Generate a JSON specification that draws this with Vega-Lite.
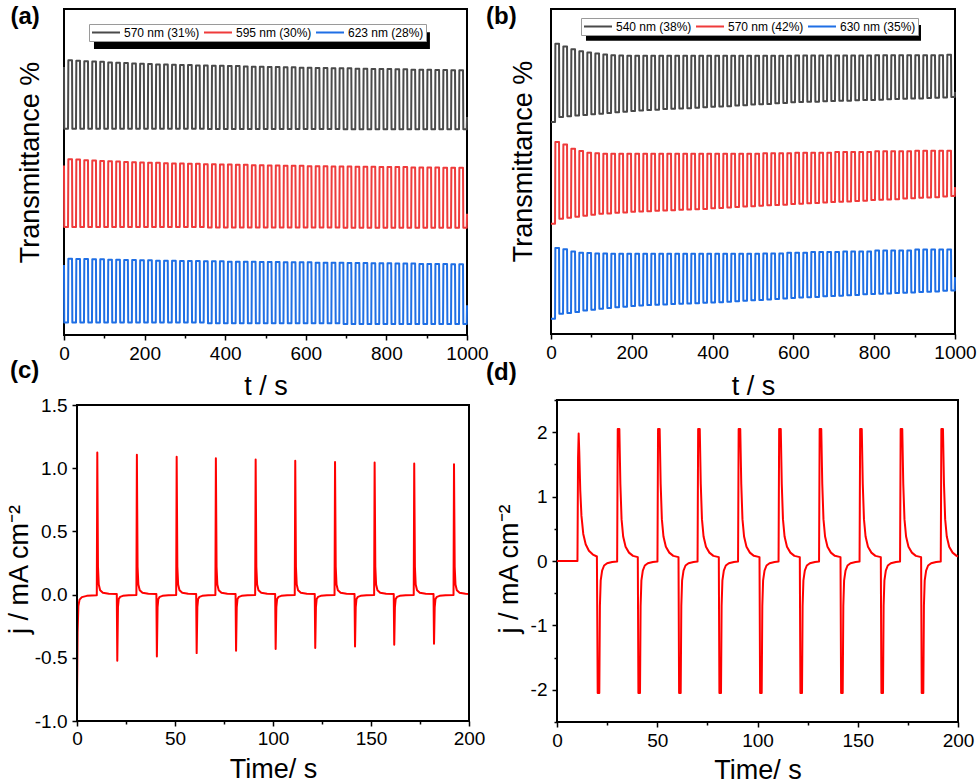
{
  "$schema": "https://vega.github.io/schema/vega-lite/v6.json",
  "background": "white",
  "padding": {"left": 5, "top": 4, "right": 0, "bottom": 0},
  "spacing": -43,
  "resolve": {"scale": {"color": "independent"}, "legend": {"color": "independent"}},
  "vconcat": [
    {
      "spacing": -5,
      "resolve": {"scale": {"color": "independent"}, "legend": {"color": "independent"}},
      "hconcat": [
        {
          "width": 403,
          "height": 326,
          "title": {"text": "(a)", "dx": -53.5, "dy": 24},
          "layer": [
            {
              "data": {
                "values": "t,a1,a2,a3\n0,82.2,52.0,21.5\n0.6,63.3,33.1,3.8\n10,63.3,33.1,3.8\n10.8,84.3,53.9,23.4\n19.9,84.3,53.9,23.4\n20.7,63.3,33.1,3.8\n29.8,63.3,33.1,3.8\n30.6,84.1,53.8,23.3\n39.7,84.1,53.8,23.3\n40.5,63.3,33.1,3.8\n49.6,63.3,33.1,3.8\n50.4,84.0,53.6,23.3\n59.5,84.0,53.6,23.3\n60.3,63.3,33.1,3.8\n69.4,63.3,33.1,3.8\n70.2,83.9,53.5,23.2\n79.3,83.9,53.5,23.2\n80.1,63.3,33.1,3.8\n89.2,63.3,33.1,3.8\n90,83.8,53.4,23.2\n99.1,83.8,53.4,23.2\n99.9,63.3,33.1,3.8\n109,63.3,33.1,3.8\n109.8,83.6,53.3,23.1\n118.9,83.6,53.3,23.1\n119.7,63.3,33.1,3.8\n128.8,63.3,33.1,3.8\n129.6,83.5,53.2,23.1\n138.7,83.5,53.2,23.1\n139.5,63.3,33.1,3.8\n148.6,63.3,33.1,3.8\n149.4,83.4,53.1,23.0\n158.5,83.4,53.1,23.0\n159.3,63.3,33.1,3.8\n168.4,63.3,33.1,3.8\n169.2,83.3,53.0,23.0\n178.3,83.3,53.0,23.0\n179.1,63.3,33.1,3.8\n188.2,63.3,33.1,3.8\n189,83.2,52.9,22.9\n198.1,83.2,52.9,22.9\n198.9,63.3,33.1,3.8\n208,63.3,33.1,3.8\n208.8,83.1,52.8,22.9\n217.9,83.1,52.8,22.9\n218.7,63.3,33.1,3.8\n227.8,63.3,33.1,3.8\n228.6,83.0,52.8,22.8\n237.7,83.0,52.8,22.8\n238.5,63.3,33.1,3.8\n247.6,63.3,33.1,3.8\n248.4,83.0,52.7,22.8\n257.5,83.0,52.7,22.8\n258.3,63.3,33.1,3.8\n267.4,63.3,33.1,3.8\n268.2,82.9,52.6,22.8\n277.3,82.9,52.6,22.8\n278.1,63.3,33.1,3.8\n287.2,63.3,33.1,3.8\n288,82.8,52.6,22.7\n297.1,82.8,52.6,22.7\n297.9,63.3,33.1,3.8\n307,63.3,33.1,3.8\n307.8,82.8,52.5,22.7\n316.9,82.8,52.5,22.7\n317.7,63.3,33.1,3.8\n326.8,63.3,33.1,3.8\n327.6,82.7,52.5,22.7\n336.7,82.7,52.5,22.7\n337.5,63.3,33.1,3.8\n346.6,63.3,33.1,3.8\n347.4,82.7,52.4,22.6\n356.5,82.7,52.4,22.6\n357.3,63.2,33.0,3.6\n366.4,63.2,33.0,3.6\n367.2,82.6,52.4,22.6\n376.3,82.6,52.4,22.6\n377.1,63.2,33.0,3.6\n386.2,63.2,33.0,3.6\n387,82.6,52.3,22.6\n396.1,82.6,52.3,22.6\n396.9,63.2,33.0,3.6\n406,63.2,33.0,3.6\n406.8,82.5,52.3,22.5\n415.9,82.5,52.3,22.5\n416.7,63.2,33.0,3.6\n425.8,63.2,33.0,3.6\n426.6,82.5,52.2,22.5\n435.7,82.5,52.2,22.5\n436.5,63.2,33.0,3.6\n445.6,63.2,33.0,3.6\n446.4,82.4,52.2,22.5\n455.5,82.4,52.2,22.5\n456.3,63.2,33.0,3.6\n465.4,63.2,33.0,3.6\n466.2,82.3,52.1,22.5\n475.3,82.3,52.1,22.5\n476.1,63.2,33.0,3.6\n485.2,63.2,33.0,3.6\n486,82.3,52.1,22.4\n495.1,82.3,52.1,22.4\n495.9,63.2,33.0,3.6\n505,63.2,33.0,3.6\n505.8,82.2,52.0,22.4\n514.9,82.2,52.0,22.4\n515.7,63.2,33.0,3.6\n524.8,63.2,33.0,3.6\n525.6,82.2,52.0,22.4\n534.7,82.2,52.0,22.4\n535.5,63.2,33.0,3.6\n544.6,63.2,33.0,3.6\n545.4,82.1,51.9,22.3\n554.5,82.1,51.9,22.3\n555.3,63.2,33.0,3.6\n564.4,63.2,33.0,3.6\n565.2,82.1,51.9,22.3\n574.3,82.1,51.9,22.3\n575.1,63.2,33.0,3.6\n584.2,63.2,33.0,3.6\n585,82.0,51.9,22.3\n594.1,82.0,51.9,22.3\n594.9,63.2,33.0,3.6\n604,63.2,33.0,3.6\n604.8,82.0,51.8,22.3\n613.9,82.0,51.8,22.3\n614.7,63.2,33.0,3.6\n623.8,63.2,33.0,3.6\n624.6,81.9,51.8,22.2\n633.7,81.9,51.8,22.2\n634.5,63.2,33.0,3.6\n643.6,63.2,33.0,3.6\n644.4,81.9,51.8,22.2\n653.5,81.9,51.8,22.2\n654.3,63.2,33.0,3.6\n663.4,63.2,33.0,3.6\n664.2,81.8,51.7,22.2\n673.3,81.8,51.7,22.2\n674.1,63.2,33.0,3.6\n683.2,63.2,33.0,3.6\n684,81.8,51.7,22.2\n693.1,81.8,51.7,22.2\n693.9,63.1,32.9,3.4\n703,63.1,32.9,3.4\n703.8,81.8,51.7,22.1\n712.9,81.8,51.7,22.1\n713.7,63.1,32.9,3.4\n722.8,63.1,32.9,3.4\n723.6,81.7,51.6,22.1\n732.7,81.7,51.6,22.1\n733.5,63.1,32.9,3.4\n742.6,63.1,32.9,3.4\n743.4,81.7,51.6,22.1\n752.5,81.7,51.6,22.1\n753.3,63.1,32.9,3.4\n762.4,63.1,32.9,3.4\n763.2,81.6,51.6,22.0\n772.3,81.6,51.6,22.0\n773.1,63.1,32.9,3.4\n782.2,63.1,32.9,3.4\n783,81.6,51.5,22.0\n792.1,81.6,51.5,22.0\n792.9,63.1,32.9,3.4\n802,63.1,32.9,3.4\n802.8,81.6,51.5,22.0\n811.9,81.6,51.5,22.0\n812.7,63.1,32.9,3.4\n821.8,63.1,32.9,3.4\n822.6,81.5,51.5,21.9\n831.7,81.5,51.5,21.9\n832.5,63.1,32.9,3.4\n841.6,63.1,32.9,3.4\n842.4,81.5,51.5,21.9\n851.5,81.5,51.5,21.9\n852.3,63.1,32.9,3.4\n861.4,63.1,32.9,3.4\n862.2,81.4,51.4,21.9\n871.3,81.4,51.4,21.9\n872.1,63.1,32.9,3.4\n881.2,63.1,32.9,3.4\n882,81.4,51.4,21.8\n891.1,81.4,51.4,21.8\n891.9,63.1,32.9,3.4\n901,63.1,32.9,3.4\n901.8,81.4,51.4,21.8\n910.9,81.4,51.4,21.8\n911.7,63.1,32.9,3.4\n920.8,63.1,32.9,3.4\n921.6,81.3,51.4,21.8\n930.7,81.3,51.4,21.8\n931.5,63.1,32.9,3.4\n940.6,63.1,32.9,3.4\n941.4,81.3,51.3,21.8\n950.5,81.3,51.3,21.8\n951.3,63.1,32.9,3.4\n960.4,63.1,32.9,3.4\n961.2,81.2,51.3,21.7\n970.3,81.2,51.3,21.7\n971.1,63.1,32.9,3.4\n980.2,63.1,32.9,3.4\n981,81.2,51.3,21.7\n990.1,81.2,51.3,21.7\n990.9,63.1,32.9,3.4\n999.4,63.1,32.9,3.4\n1000,66.9,37.2,9.1",
                "format": {"type": "csv", "parse": {"t": "number", "a1": "number", "a2": "number", "a3": "number"}}
              },
              "transform": [{"fold": ["a1", "a2", "a3"], "as": ["s", "v"]}],
              "mark": {"type": "line", "strokeWidth": 2, "strokeJoin": "round"},
              "encoding": {
                "x": {
                  "field": "t", "type": "quantitative",
                  "scale": {"domain": [0, 1000], "nice": false},
                  "axis": {
                    "title": "t / s",
                    "values": [0, 100, 200, 300, 400, 500, 600, 700, 800, 900, 1000],
                    "labelExpr": "datum.value % 200 === 0 ? format(datum.value, '.0f') : ''",
                    "tickSize": {"condition": {"test": "datum.value % 200 === 0", "value": 5}, "value": 3},
                    "domain": false,
                    "labelBaseline": "alphabetic",
                    "labelPadding": 19,
                    "titleY": 59,
                    "titleBaseline": "alphabetic"
                  }
                },
                "y": {
                  "field": "v", "type": "quantitative",
                  "scale": {"domain": [0, 100], "nice": false},
                  "axis": {"title": "Transmittance %", "labels": false, "ticks": false, "domain": false, "titleX": -26, "titleY": 153, "titleBaseline": "alphabetic"}
                },
                "color": {
                  "field": "s", "type": "nominal",
                  "scale": {"domain": ["a1", "a2", "a3"], "range": ["#4a4a4a", "#ef3b3b", "#1f6fe5"]},
                  "legend": {
                    "title": null, "orient": "none", "legendX": 25, "legendY": 15, "direction": "horizontal",
                    "symbolType": "stroke", "symbolSize": 784, "symbolStrokeWidth": 2, "clipHeight": 13,
                    "labelFontSize": 12, "labelOffset": 3, "columnPadding": 3, "padding": 2,
                    "fillColor": "white", "strokeColor": "#9a9a9a",
                    "labelExpr": "datum.label === 'a1' ? '570 nm (31%)' : datum.label === 'a2' ? '595 nm (30%)' : '623 nm (28%)'"
                  }
                }
              }
            },
            {
              "data": {"values": [{}]},
              "mark": {"type": "rect", "color": "black"},
              "encoding": {
                "x": {"datum": 74.4, "type": "quantitative"},
                "x2": {"datum": 908},
                "y": {"datum": 87.7, "type": "quantitative"},
                "y2": {"datum": 92.9}
              }
            }
          ]
        },
        {
          "width": 404,
          "height": 325,
          "title": {"text": "(b)", "dx": -65, "dy": 24},
          "layer": [
            {
              "data": {
                "values": "t,b1,b2,b3\n0,65.2,33.9,4.7\n10,65.2,33.9,4.7\n10.8,89.3,59.1,26.5\n19.9,89.3,59.1,26.5\n20.7,66.8,35.5,6.2\n29.8,66.8,35.5,6.2\n30.6,88.5,58.3,26.1\n39.7,88.5,58.3,26.1\n40.5,67.0,35.8,6.5\n49.6,67.0,35.8,6.5\n50.4,87.6,57.0,25.4\n59.5,87.6,57.0,25.4\n60.3,67.2,36.1,6.8\n69.4,67.2,36.1,6.8\n70.2,87.0,56.3,25.0\n79.3,87.0,56.3,25.0\n80.1,67.4,36.4,7.2\n89.2,67.4,36.4,7.2\n90,86.6,55.8,24.9\n99.1,86.6,55.8,24.9\n99.9,67.6,36.7,7.5\n109,67.6,36.7,7.5\n109.8,86.3,55.6,24.8\n118.9,86.3,55.6,24.8\n119.7,67.8,37.0,7.8\n128.8,67.8,37.0,7.8\n129.6,86.0,55.5,24.8\n138.7,86.0,55.5,24.8\n139.5,68.0,37.1,8.0\n148.6,68.0,37.1,8.0\n149.4,85.8,55.5,24.7\n158.5,85.8,55.5,24.7\n159.3,68.2,37.3,8.2\n168.4,68.2,37.3,8.2\n169.2,85.7,55.5,24.7\n178.3,85.7,55.5,24.7\n179.1,68.4,37.4,8.4\n188.2,68.4,37.4,8.4\n189,85.6,55.5,24.7\n198.1,85.6,55.5,24.7\n198.9,68.6,37.6,8.6\n208,68.6,37.6,8.6\n208.8,85.6,55.5,24.7\n217.9,85.6,55.5,24.7\n218.7,68.8,37.7,8.8\n227.8,68.8,37.7,8.8\n228.6,85.6,55.5,24.7\n237.7,85.6,55.5,24.7\n238.5,68.9,37.8,8.9\n247.6,68.9,37.8,8.9\n248.4,85.6,55.5,24.7\n257.5,85.6,55.5,24.7\n258.3,69.0,37.9,9.0\n267.4,69.0,37.9,9.0\n268.2,85.6,55.5,24.7\n277.3,85.6,55.5,24.7\n278.1,69.2,38.0,9.1\n287.2,69.2,38.0,9.1\n288,85.6,55.5,24.7\n297.1,85.6,55.5,24.7\n297.9,69.3,38.1,9.2\n307,69.3,38.1,9.2\n307.8,85.6,55.5,24.7\n316.9,85.6,55.5,24.7\n317.7,69.4,38.2,9.3\n326.8,69.4,38.2,9.3\n327.6,85.6,55.5,24.7\n336.7,85.6,55.5,24.7\n337.5,69.5,38.3,9.4\n346.6,69.5,38.3,9.4\n347.4,85.6,55.5,24.7\n356.5,85.6,55.5,24.7\n357.3,69.6,38.4,9.5\n366.4,69.6,38.4,9.5\n367.2,85.6,55.5,24.7\n376.3,85.6,55.5,24.7\n377.1,69.8,38.5,9.6\n386.2,69.8,38.5,9.6\n387,85.6,55.5,24.7\n396.1,85.6,55.5,24.7\n396.9,69.9,38.7,9.7\n406,69.9,38.7,9.7\n406.8,85.6,55.5,24.7\n415.9,85.6,55.5,24.7\n416.7,70.0,38.8,9.8\n425.8,70.0,38.8,9.8\n426.6,85.6,55.5,24.7\n435.7,85.6,55.5,24.7\n436.5,70.1,38.9,9.9\n445.6,70.1,38.9,9.9\n446.4,85.6,55.5,24.7\n455.5,85.6,55.5,24.7\n456.3,70.3,39.1,10.1\n465.4,70.3,39.1,10.1\n466.2,85.6,55.5,24.7\n475.3,85.6,55.5,24.7\n476.1,70.4,39.2,10.2\n485.2,70.4,39.2,10.2\n486,85.6,55.5,24.7\n495.1,85.6,55.5,24.7\n495.9,70.6,39.3,10.4\n505,70.6,39.3,10.4\n505.8,85.6,55.5,24.7\n514.9,85.6,55.5,24.7\n515.7,70.7,39.5,10.5\n524.8,70.7,39.5,10.5\n525.6,85.6,55.6,24.8\n534.7,85.6,55.6,24.8\n535.5,70.8,39.6,10.6\n544.6,70.8,39.6,10.6\n545.4,85.6,55.6,24.8\n554.5,85.6,55.6,24.8\n555.3,71.0,39.7,10.8\n564.4,71.0,39.7,10.8\n565.2,85.6,55.6,24.8\n574.3,85.6,55.6,24.8\n575.1,71.1,39.8,10.9\n584.2,71.1,39.8,10.9\n585,85.6,55.6,25.0\n594.1,85.6,55.6,25.0\n594.9,71.3,40.0,11.1\n604,71.3,40.0,11.1\n604.8,85.7,55.8,25.0\n613.9,85.7,55.8,25.0\n614.7,71.4,40.1,11.2\n623.8,71.4,40.1,11.2\n624.6,85.7,55.8,25.0\n633.7,85.7,55.8,25.0\n634.5,71.5,40.2,11.3\n643.6,71.5,40.2,11.3\n644.4,85.7,55.8,25.2\n653.5,85.7,55.8,25.2\n654.3,71.5,40.3,11.4\n663.4,71.5,40.3,11.4\n664.2,85.7,55.8,25.2\n673.3,85.7,55.8,25.2\n674.1,71.6,40.5,11.6\n683.2,71.6,40.5,11.6\n684,85.7,55.8,25.2\n693.1,85.7,55.8,25.2\n693.9,71.7,40.6,11.7\n703,71.7,40.6,11.7\n703.8,85.7,56.0,25.2\n712.9,85.7,56.0,25.2\n713.7,71.8,40.7,11.8\n722.8,71.8,40.7,11.8\n723.6,85.7,56.0,25.4\n732.7,85.7,56.0,25.4\n733.5,71.8,40.8,11.9\n742.6,71.8,40.8,11.9\n743.4,85.7,56.0,25.4\n752.5,85.7,56.0,25.4\n753.3,71.9,40.9,12.0\n762.4,71.9,40.9,12.0\n763.2,85.7,56.0,25.4\n772.3,85.7,56.0,25.4\n773.1,72.0,41.0,12.2\n782.2,72.0,41.0,12.2\n783,85.7,56.0,25.4\n792.1,85.7,56.0,25.4\n792.9,72.0,41.2,12.3\n802,72.0,41.2,12.3\n802.8,85.8,56.2,25.7\n811.9,85.8,56.2,25.7\n812.7,72.1,41.3,12.4\n821.8,72.1,41.3,12.4\n822.6,85.8,56.2,25.7\n831.7,85.8,56.2,25.7\n832.5,72.2,41.4,12.5\n841.6,72.2,41.4,12.5\n842.4,85.8,56.2,25.7\n851.5,85.8,56.2,25.7\n852.3,72.3,41.5,12.6\n861.4,72.3,41.5,12.6\n862.2,85.8,56.2,25.7\n871.3,85.8,56.2,25.7\n872.1,72.4,41.7,12.7\n881.2,72.4,41.7,12.7\n882,85.8,56.2,25.7\n891.1,85.8,56.2,25.7\n891.9,72.5,41.8,12.8\n901,72.5,41.8,12.8\n901.8,85.8,56.4,26.0\n910.9,85.8,56.4,26.0\n911.7,72.5,41.9,12.9\n920.8,72.5,41.9,12.9\n921.6,85.8,56.4,26.0\n930.7,85.8,56.4,26.0\n931.5,72.6,42.0,13.0\n940.6,72.6,42.0,13.0\n941.4,85.8,56.4,26.0\n950.5,85.8,56.4,26.0\n951.3,72.7,42.1,13.1\n960.4,72.7,42.1,13.1\n961.2,85.8,56.4,26.0\n970.3,85.8,56.4,26.0\n971.1,72.8,42.3,13.3\n980.2,72.8,42.3,13.3\n981,85.9,56.4,26.0\n990.1,85.9,56.4,26.0\n990.9,72.9,42.5,13.4\n999.4,72.9,42.5,13.4\n1000,74.5,45.2,17.5",
                "format": {"type": "csv", "parse": {"t": "number", "b1": "number", "b2": "number", "b3": "number"}}
              },
              "transform": [{"fold": ["b1", "b2", "b3"], "as": ["s", "v"]}],
              "mark": {"type": "line", "strokeWidth": 2, "strokeJoin": "round"},
              "encoding": {
                "x": {
                  "field": "t", "type": "quantitative",
                  "scale": {"domain": [0, 1000], "nice": false},
                  "axis": {
                    "title": "t / s",
                    "values": [0, 100, 200, 300, 400, 500, 600, 700, 800, 900, 1000],
                    "labelExpr": "datum.value % 200 === 0 ? format(datum.value, '.0f') : ''",
                    "tickSize": {"condition": {"test": "datum.value % 200 === 0", "value": 5}, "value": 3},
                    "domain": false,
                    "labelBaseline": "alphabetic",
                    "labelPadding": 19,
                    "titleY": 60,
                    "titleBaseline": "alphabetic"
                  }
                },
                "y": {
                  "field": "v", "type": "quantitative",
                  "scale": {"domain": [0, 100], "nice": false},
                  "axis": {"title": "Transmittance %", "labels": false, "ticks": false, "domain": false, "titleX": -20, "titleY": 152, "titleBaseline": "alphabetic"}
                },
                "color": {
                  "field": "s", "type": "nominal",
                  "scale": {"domain": ["b1", "b2", "b3"], "range": ["#4a4a4a", "#ef3b3b", "#1f6fe5"]},
                  "legend": {
                    "title": null, "orient": "none", "legendX": 30, "legendY": 9, "direction": "horizontal",
                    "symbolType": "stroke", "symbolSize": 784, "symbolStrokeWidth": 2, "clipHeight": 13,
                    "labelFontSize": 12, "labelOffset": 3, "columnPadding": 3, "padding": 2,
                    "fillColor": "white", "strokeColor": "#9a9a9a",
                    "labelExpr": "datum.label === 'b1' ? '540 nm (38%)' : datum.label === 'b2' ? '570 nm (42%)' : '630 nm (35%)'"
                  }
                }
              }
            },
            {
              "data": {"values": [{}]},
              "mark": {"type": "rect", "color": "black"},
              "encoding": {
                "x": {"datum": 86.6, "type": "quantitative"},
                "x2": {"datum": 915.8},
                "y": {"datum": 90.2, "type": "quantitative"},
                "y2": {"datum": 95.1}
              }
            }
          ]
        }
      ]
    },
    {
      "spacing": 0,
      "hconcat": [
        {
          "width": 405,
          "height": 321,
          "view": {"stroke": null},
          "title": {"text": "(c)", "dx": -54, "dy": -9},
          "layer": [
            {
              "data": {
                "values": "t,j\n0,-0.8\n0.3,-0.3\n0.7,-0.09\n1.3,-0.04\n2.5,-0.02\n5,-0.01\n10.1,-0.005\n10.35,1.124\n10.7,0.22\n11.1,0.08\n11.8,0.035\n13.2,0.015\n16.2,0.007\n20.3,0.004\n20.55,-0.524\n20.9,-0.1\n21.3,-0.035\n22,-0.018\n23.4,-0.01\n26.4,-0.006\n30.3,-0.004\n30.55,1.106\n30.9,0.22\n31.3,0.08\n32,0.035\n33.4,0.015\n36.4,0.007\n40.5,0.004\n40.75,-0.489\n41.1,-0.1\n41.5,-0.035\n42.2,-0.018\n43.6,-0.01\n46.6,-0.006\n50.6,-0.004\n50.85,1.09\n51.2,0.22\n51.6,0.08\n52.3,0.035\n53.7,0.015\n56.7,0.007\n60.8,0.004\n61.05,-0.463\n61.4,-0.1\n61.8,-0.035\n62.5,-0.018\n63.9,-0.01\n66.9,-0.006\n70.6,-0.004\n70.85,1.079\n71.2,0.22\n71.6,0.08\n72.3,0.035\n73.7,0.015\n76.7,0.007\n80.9,0.004\n81.15,-0.444\n81.5,-0.1\n81.9,-0.035\n82.6,-0.018\n84,-0.01\n87,-0.006\n90.9,-0.004\n91.15,1.069\n91.5,0.22\n91.9,0.08\n92.6,0.035\n94,0.015\n97,0.007\n101.1,0.004\n101.35,-0.431\n101.7,-0.1\n102.1,-0.035\n102.8,-0.018\n104.2,-0.01\n107.2,-0.006\n111.1,-0.004\n111.35,1.058\n111.7,0.22\n112.1,0.08\n112.8,0.035\n114.2,0.015\n117.2,0.007\n121.3,0.004\n121.55,-0.423\n121.9,-0.1\n122.3,-0.035\n123,-0.018\n124.4,-0.01\n127.4,-0.006\n131.4,-0.004\n131.65,1.05\n132,0.22\n132.4,0.08\n133.1,0.035\n134.5,0.015\n137.5,0.007\n141.6,0.004\n141.85,-0.41\n142.2,-0.1\n142.6,-0.035\n143.3,-0.018\n144.7,-0.01\n147.7,-0.006\n151.6,-0.004\n151.85,1.045\n152.2,0.22\n152.6,0.08\n153.3,0.035\n154.7,0.015\n157.7,0.007\n161.6,0.004\n161.85,-0.397\n162.2,-0.1\n162.6,-0.035\n163.3,-0.018\n164.7,-0.01\n167.7,-0.006\n171.8,-0.004\n172.05,1.037\n172.4,0.22\n172.8,0.08\n173.5,0.035\n174.9,0.015\n177.9,0.007\n181.9,0.004\n182.15,-0.389\n182.5,-0.1\n182.9,-0.035\n183.6,-0.018\n185,-0.01\n188,-0.006\n192.1,-0.004\n192.35,1.032\n192.7,0.22\n193.1,0.08\n193.8,0.035\n195.2,0.015\n198.2,0.007\n200,0.005",
                "format": {"type": "csv", "parse": {"t": "number", "j": "number"}}
              },
              "mark": {"type": "line", "color": "#ff0000", "strokeWidth": 2, "strokeJoin": "round"},
              "encoding": {
                "x": {
                  "field": "t", "type": "quantitative",
                  "scale": {"domain": [-6.635, 200], "nice": false, "zero": false},
                  "axis": {
                    "title": "Time/ s",
                    "values": [0, 25, 50, 75, 100, 125, 150, 175, 200],
                    "labelExpr": "datum.value % 50 === 0 ? format(datum.value, '.0f') : ''",
                    "tickSize": {"condition": {"test": "datum.value % 50 === 0", "value": 5}, "value": 3},
                    "domain": false,
                    "labelBaseline": "alphabetic",
                    "labelPadding": 18,
                    "titleX": 209,
                    "titleY": 56,
                    "titleBaseline": "alphabetic"
                  }
                },
                "y": {
                  "field": "j", "type": "quantitative",
                  "scale": {"domain": [-1, 1.5396], "nice": false, "zero": false},
                  "axis": {
                    "title": "j / mA cm⁻²",
                    "values": [-1, -0.75, -0.5, -0.25, 0, 0.25, 0.5, 0.75, 1, 1.25, 1.5],
                    "labelExpr": "(datum.value * 2) % 1 === 0 ? replace(format(datum.value, '.1f'), '−', '-') : ''",
                    "tickSize": {"condition": {"test": "(datum.value * 2) % 1 === 0", "value": 5}, "value": 3},
                    "domain": false,
                    "offset": -13,
                    "labelPadding": 5,
                    "titleX": -50,
                    "titleY": 169,
                    "titleBaseline": "alphabetic"
                  }
                }
              }
            },
            {
              "data": {"values": [{}]},
              "mark": {"type": "rect", "filled": false, "stroke": "black", "strokeWidth": 2},
              "encoding": {
                "x": {"datum": 0, "type": "quantitative"},
                "x2": {"datum": 200},
                "y": {"datum": -1, "type": "quantitative"},
                "y2": {"datum": 1.5}
              }
            }
          ]
        },
        {
          "width": 401,
          "height": 322,
          "view": {"stroke": "black", "strokeWidth": 2},
          "title": {"text": "(d)", "dx": -71, "dy": -2},
          "data": {
            "values": "t,j\n0,0\n10.2,0\n10.5,1.6\n10.8,1.98\n11.1,1.7\n11.6,1.1\n12.2,0.7\n13.1,0.42\n14.3,0.26\n15.9,0.16\n17.9,0.1\n19.9,0.07\n20.3,-2.05\n21.1,-2.05\n21.4,-0.7\n21.8,-0.3\n22.5,-0.15\n23.5,-0.07\n25,-0.035\n27.5,-0.015\n30,-0.008\n30.3,2.05\n31.1,2.05\n31.6,1.2\n32.2,0.65\n33,0.38\n34.2,0.22\n35.9,0.13\n37.9,0.08\n40.3,0.06\n40.6,-2.05\n41.4,-2.05\n41.7,-0.7\n42.1,-0.3\n42.8,-0.15\n43.8,-0.07\n45.3,-0.035\n47.8,-0.015\n50.1,-0.008\n50.4,2.05\n51.2,2.05\n51.7,1.2\n52.3,0.65\n53.1,0.38\n54.3,0.22\n56,0.13\n58,0.08\n60.6,0.06\n60.9,-2.05\n61.7,-2.05\n62,-0.7\n62.4,-0.3\n63.1,-0.15\n64.1,-0.07\n65.6,-0.035\n68.1,-0.015\n70.1,-0.008\n70.4,2.05\n71.2,2.05\n71.7,1.2\n72.3,0.65\n73.1,0.38\n74.3,0.22\n76,0.13\n78,0.08\n80.7,0.06\n81,-2.05\n81.8,-2.05\n82.1,-0.7\n82.5,-0.3\n83.2,-0.15\n84.2,-0.07\n85.7,-0.035\n88.2,-0.015\n90.3,-0.008\n90.6,2.05\n91.4,2.05\n91.9,1.2\n92.5,0.65\n93.3,0.38\n94.5,0.22\n96.2,0.13\n98.2,0.08\n101,0.06\n101.3,-2.05\n102.1,-2.05\n102.4,-0.7\n102.8,-0.3\n103.5,-0.15\n104.5,-0.07\n106,-0.035\n108.5,-0.015\n110.5,-0.008\n110.8,2.05\n111.6,2.05\n112.1,1.2\n112.7,0.65\n113.5,0.38\n114.7,0.22\n116.4,0.13\n118.4,0.08\n121.1,0.06\n121.4,-2.05\n122.2,-2.05\n122.5,-0.7\n122.9,-0.3\n123.6,-0.15\n124.6,-0.07\n126.1,-0.035\n128.6,-0.015\n130.7,-0.008\n131,2.05\n131.8,2.05\n132.3,1.2\n132.9,0.65\n133.7,0.38\n134.9,0.22\n136.6,0.13\n138.6,0.08\n141.4,0.06\n141.7,-2.05\n142.5,-2.05\n142.8,-0.7\n143.2,-0.3\n143.9,-0.15\n144.9,-0.07\n146.4,-0.035\n148.9,-0.015\n150.9,-0.008\n151.2,2.05\n152,2.05\n152.5,1.2\n153.1,0.65\n153.9,0.38\n155.1,0.22\n156.8,0.13\n158.8,0.08\n161.5,0.06\n161.8,-2.05\n162.6,-2.05\n162.9,-0.7\n163.3,-0.3\n164,-0.15\n165,-0.07\n166.5,-0.035\n169,-0.015\n171.1,-0.008\n171.4,2.05\n172.2,2.05\n172.7,1.2\n173.3,0.65\n174.1,0.38\n175.3,0.22\n177,0.13\n179,0.08\n181.6,0.06\n181.9,-2.05\n182.7,-2.05\n183,-0.7\n183.4,-0.3\n184.1,-0.15\n185.1,-0.07\n186.6,-0.035\n189.1,-0.015\n191.4,-0.008\n191.7,2.05\n192.5,2.05\n193,1.2\n193.6,0.65\n194.4,0.38\n195.6,0.22\n197.3,0.13\n199.3,0.08\n200,0.07",
            "format": {"type": "csv", "parse": {"t": "number", "j": "number"}}
          },
          "mark": {"type": "line", "color": "#ff0000", "strokeWidth": 2, "strokeJoin": "round"},
          "encoding": {
            "x": {
              "field": "t", "type": "quantitative",
              "scale": {"domain": [0, 200], "nice": false, "zero": false},
              "axis": {
                "title": "Time/ s",
                "values": [0, 25, 50, 75, 100, 125, 150, 175, 200],
                "labelExpr": "datum.value % 50 === 0 ? format(datum.value, '.0f') : ''",
                "tickSize": {"condition": {"test": "datum.value % 50 === 0", "value": 5}, "value": 3},
                "domain": false,
                "labelBaseline": "alphabetic",
                "labelPadding": 19,
                "titleY": 56,
                "titleBaseline": "alphabetic"
              }
            },
            "y": {
              "field": "j", "type": "quantitative",
              "scale": {"domain": [-2.5, 2.5], "nice": false, "zero": false},
              "axis": {
                "title": "j / mA cm⁻²",
                "values": [-2.5, -2, -1.5, -1, -0.5, 0, 0.5, 1, 1.5, 2, 2.5],
                "labelExpr": "datum.value === 2 ? '2' : datum.value === 1 ? '1' : datum.value === 0 ? '0' : datum.value === -1 ? '-1' : datum.value === -2 ? '-2' : ''",
                "tickSize": {"condition": {"test": "(datum.value * 2) % 2 === 0", "value": 5}, "value": 3},
                "domain": false,
                "labelPadding": 5,
                "titleX": -40,
                "titleY": 168.5,
                "titleBaseline": "alphabetic"
              }
            }
          }
        }
      ]
    }
  ],
  "config": {
    "font": "Liberation Sans",
    "view": {"stroke": "black", "strokeWidth": 2},
    "axis": {
      "labelFont": "Liberation Sans", "labelFontSize": 19, "labelColor": "black",
      "titleFont": "Liberation Sans", "titleFontSize": 27, "titleFontWeight": "normal", "titleColor": "black",
      "tickColor": "black", "tickWidth": 1.5, "grid": false, "labelFlush": false, "labelOverlap": false
    },
    "title": {"font": "Liberation Sans", "fontSize": 24, "fontWeight": "bold", "anchor": "start", "frame": "group", "baseline": "alphabetic", "offset": 0, "color": "black"},
    "legend": {"labelFont": "Liberation Sans", "labelColor": "black"}
  }
}
